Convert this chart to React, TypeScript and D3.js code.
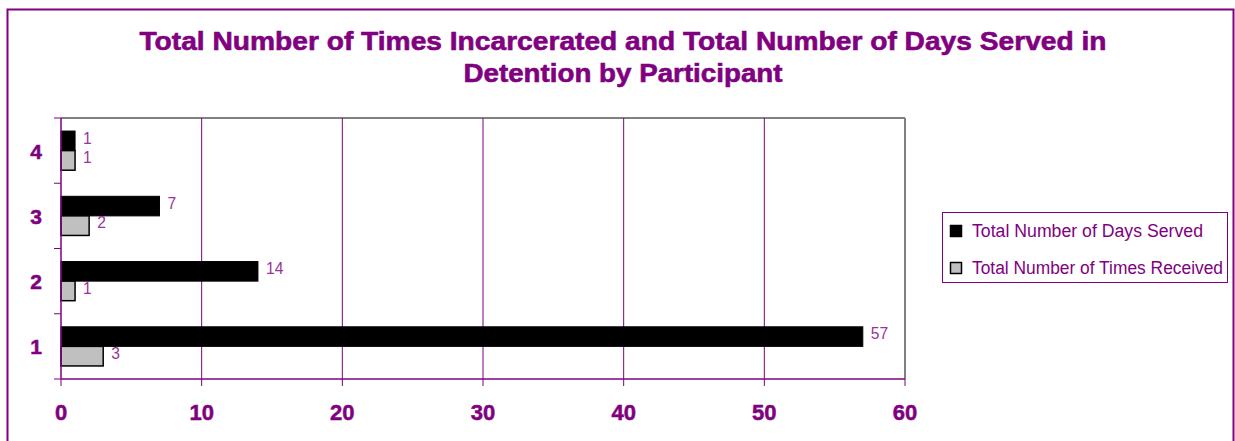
import React from "react";
import * as d3 from "d3";

const categories = ["1", "2", "3", "4"];
const daysServed = [57, 14, 7, 1];
const timesReceived = [3, 1, 2, 1];
const seriesNames = ["Total Number of Days Served", "Total Number of Times Received"];
const xTicks = [0, 10, 20, 30, 40, 50, 60];
const titleLines = [
  "Total Number of Times Incarcerated and Total Number of Days Served in",
  "Detention by Participant",
];

const PURPLE = "#800080";
const LABEL = "#993399";

export default function App() {
  const W = 1235, H = 441;
  const left = 61, right = 905, top = 118, bottom = 379;
  const x = d3.scaleLinear().domain([0, 60]).range([left, right]);
  const y = d3.scaleBand().domain([...categories].reverse()).range([top, bottom]).paddingInner(0.4).paddingOuter(0.2);
  const bandFull = d3.scaleBand().domain([...categories].reverse()).range([top, bottom]);
  const bw = y.bandwidth() / 2;
  const sans = "'Liberation Sans', Arial, sans-serif";
  const titleLens = [967, 319];
  const legendLens = [231, 251];

  const valueLabel = (v: number, yy: number, key: string) => {
    const lx = x(v) + 8;
    return (
      <text key={key} x={lx} y={yy} fontFamily={sans} fontSize={17} fill={LABEL}
        transform={`translate(${lx},0) scale(0.92,1) translate(${-lx},0)`}>{v}</text>
    );
  };

  return (
    <svg width={W} height={H} style={{ position: "absolute", left: 0, top: 0 }}>
      <rect x={0} y={0} width={W} height={H} fill="#fff" />
      <rect x={7.5} y={9.5} width={1226} height={450} fill="none" stroke={PURPLE} strokeWidth={2} />
      {titleLines.map((t, i) => (
        <text key={i} x={623} y={50 + i * 32} textAnchor="middle" fontFamily={sans} fontWeight="bold" fontSize={26}
          fill={PURPLE} stroke={PURPLE} strokeWidth={0.6} textLength={titleLens[i]} lengthAdjust="spacingAndGlyphs">{t}</text>
      ))}
      {/* plot frame */}
      <line x1={left} x2={right} y1={top} y2={top} stroke="#808080" strokeWidth={2} />
      <line x1={right} x2={right} y1={top} y2={bottom} stroke="#808080" strokeWidth={2} />
      {xTicks.slice(1, -1).map(t => (
        <line key={t} x1={x(t)} x2={x(t)} y1={top} y2={bottom} stroke={PURPLE} strokeWidth={1} />
      ))}
      {/* bars */}
      {categories.map((c, i) => {
        const y0 = y(c)!;
        return (
          <g key={c}>
            <rect x={x(0)} y={y0} width={x(daysServed[i]) - x(0)} height={bw} fill="#000" stroke="#000" strokeWidth={1} />
            <rect x={x(0)} y={y0 + bw} width={x(timesReceived[i]) - x(0)} height={bw} fill="#C0C0C0" stroke="#000" strokeWidth={1.5} />
            {valueLabel(daysServed[i], y0 + 12.5, "d")}
            {valueLabel(timesReceived[i], y0 + bw + 12.5, "t")}
          </g>
        );
      })}
      {/* axes */}
      <line x1={left} x2={left} y1={top} y2={bottom} stroke={PURPLE} strokeWidth={1.5} />
      <line x1={left} x2={right} y1={bottom} y2={bottom} stroke={PURPLE} strokeWidth={1.5} />
      {[...categories, "end"].map((c, i) => {
        const yy = top + i * bandFull.step();
        return <line key={c} x1={left - 7} x2={left} y1={yy} y2={yy} stroke={PURPLE} strokeWidth={1} />;
      })}
      {xTicks.map(t => (
        <line key={t} x1={x(t)} x2={x(t)} y1={bottom} y2={bottom + 7} stroke={PURPLE} strokeWidth={1} />
      ))}
      {categories.map(c => (
        <text key={c} x={36} y={bandFull(c)! + bandFull.bandwidth() / 2 + 8} textAnchor="middle" fontFamily={sans} fontWeight="bold" fontSize={21}
          fill={PURPLE} stroke={PURPLE} strokeWidth={0.5}>{c}</text>
      ))}
      {xTicks.map(t => (
        <text key={t} x={x(t)} y={420} textAnchor="middle" fontFamily={sans} fontWeight="bold" fontSize={22}
          fill={PURPLE} stroke={PURPLE} strokeWidth={0.5}>{t}</text>
      ))}
      {/* legend */}
      <rect x={942.5} y={212.5} width={285} height={70} fill="#fff" stroke={PURPLE} strokeWidth={1} />
      {seriesNames.map((n, i) => (
        <g key={n}>
          <rect x={950.5} y={225.5 + i * 37} width={11} height={11} fill={i === 0 ? "#000" : "#C0C0C0"} stroke="#000" strokeWidth={1.5} />
          <text x={972} y={237 + i * 37} fontFamily={sans} fontSize={18} fill={PURPLE}
            textLength={legendLens[i]} lengthAdjust="spacingAndGlyphs">{n}</text>
        </g>
      ))}
    </svg>
  );
}
